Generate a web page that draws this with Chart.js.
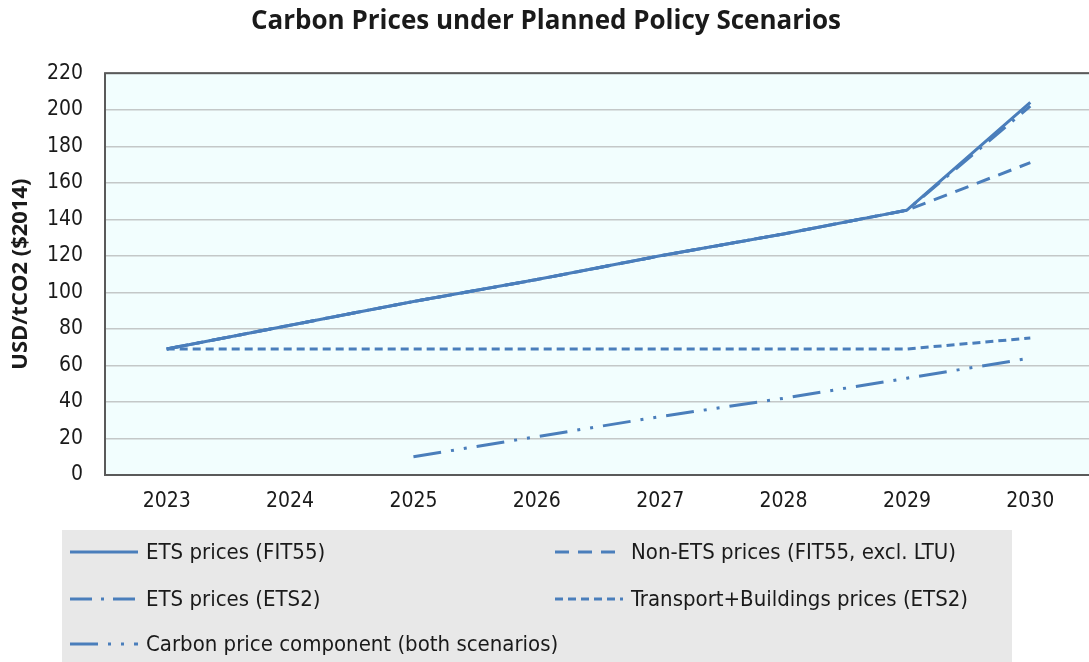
<!DOCTYPE html>
<html>
<head>
<meta charset="utf-8">
<script src="https://cdn.jsdelivr.net/npm/chart.js@4"></script>
<style>
  html, body { margin: 0; padding: 0; background: #fff; overflow: hidden; }
  #wrap { width: 1095px; height: 662px; }
</style>
</head>
<body>
<div id="wrap"><canvas id="c" width="1095" height="662"></canvas></div>
<script>
// values
const years = ['2023', '2024', '2025', '2026', '2027', '2028', '2029', '2030'];
const etsFit55 = [69, 82, 95, 107, 120, 132, 145, 204];
const nonEtsFit55 = [69, 82, 95, 107, 120, 132, 145, 171];
const etsEts2 = [69, 82, 95, 107, 120, 132, 145, 202];
const transportBuildings = [69, 69, 69, 69, 69, 69, 69, 75];
const carbonComponent = [null, null, 10, 21, 32, 42, 53, 64];

const LINE_COLOR = '#4a7ebb';
const NARROW = "'Liberation Sans Narrow', 'DejaVu Sans Condensed', 'Liberation Sans', Arial, sans-serif";
const BOLD_FONT = "'Open Sans', 'Noto Sans', sans-serif";

function series(label, data, dash) {
    return {
        label: label,
        data: data,
        borderColor: LINE_COLOR,
        backgroundColor: LINE_COLOR,
        borderWidth: 3,
        borderDash: dash,
        borderCapStyle: 'butt',
        pointRadius: 0,
        tension: 0,
        fill: false,
        spanGaps: false
    };
}

// plot background + frame
const plotFrame = {
    id: 'plotFrame',
    beforeDraw(chart) {
        const a = chart.chartArea;
        const ctx = chart.ctx;
        ctx.save();
        ctx.fillStyle = '#f2fefe';
        ctx.fillRect(a.left, a.top, a.right - a.left, a.bottom - a.top);
        ctx.restore();
    },
    afterDatasetsDraw(chart) {
        const a = chart.chartArea;
        const ctx = chart.ctx;
        ctx.save();
        ctx.strokeStyle = '#5a5a5a';
        ctx.lineWidth = 2;
        ctx.strokeRect(a.left, a.top, a.right - a.left, a.bottom - a.top);
        ctx.restore();
    }
};

// two-column legend in a grey box under the plot
const boxLegend = {
    id: 'boxLegend',
    afterDraw(chart) {
        const ctx = chart.ctx;
        const ds = chart.data.datasets;
        // order of the reference legend
        const slots = [
            {i: 0, x: 70, y: 552},
            {i: 1, x: 555, y: 552},
            {i: 2, x: 70, y: 599},
            {i: 3, x: 555, y: 599},
            {i: 4, x: 70, y: 644}
        ];
        ctx.save();
        ctx.fillStyle = '#e8e8e8';
        ctx.fillRect(62, 530, 950, 132);
        slots.forEach((s) => {
            const d = ds[s.i];
            ctx.beginPath();
            ctx.setLineDash(d.borderDash || []);
            ctx.strokeStyle = d.borderColor;
            ctx.lineWidth = 3;
            ctx.moveTo(s.x, s.y);
            ctx.lineTo(s.x + 68, s.y);
            ctx.stroke();
            ctx.setLineDash([]);
            ctx.fillStyle = '#1a1a1a';
            ctx.font = '22px ' + NARROW;
            ctx.textBaseline = 'middle';
            ctx.fillText(d.label, s.x + 76, s.y + 1);
        });
        ctx.restore();
    }
};

new Chart(document.getElementById('c'), {
    type: 'line',
    data: {
        labels: years,
        datasets: [
            series('ETS prices (FIT55)', etsFit55, []),
            series('Non-ETS prices (FIT55, excl. LTU)', nonEtsFit55, [14, 9]),
            series('ETS prices (ETS2)', etsEts2, [22, 9, 3, 9]),
            series('Transport+Buildings prices (ETS2)', transportBuildings, [8, 5]),
            series('Carbon price component (both scenarios)', carbonComponent, [28, 10, 3, 10, 3, 10])
        ]
    },
    options: {
        responsive: false,
        animation: false,
        layout: {
            padding: {left: 0, right: 3, top: 0, bottom: 132}
        },
        plugins: {
            legend: {display: false},
            tooltip: {enabled: false},
            title: {
                display: true,
                text: 'Carbon Prices under Planned Policy Scenarios',
                color: '#1a1a1a',
                font: {family: BOLD_FONT, size: 26, weight: 'bold'},
                padding: {top: 6, bottom: 36}
            }
        },
        scales: {
            x: {
                offset: true,
                grid: {display: false},
                border: {display: false},
                ticks: {
                    color: '#1a1a1a',
                    font: {family: NARROW, size: 21},
                    padding: 6
                },
                afterFit(scale) { scale.height = 55; }
            },
            y: {
                min: 0,
                max: 220,
                grid: {color: '#c4c8c8', lineWidth: 1.5, drawTicks: false},
                border: {display: false},
                ticks: {
                    stepSize: 20,
                    color: '#1a1a1a',
                    font: {family: NARROW, size: 21},
                    padding: 22
                },
                title: {
                    display: true,
                    text: 'USD/tCO2 ($2014)',
                    color: '#1a1a1a',
                    font: {family: BOLD_FONT, size: 22, weight: 'bold'},
                    padding: {top: 8, bottom: 0}
                },
                afterFit(scale) { scale.width = 105; }
            }
        }
    },
    plugins: [plotFrame, boxLegend]
});
</script>
</body>
</html>
